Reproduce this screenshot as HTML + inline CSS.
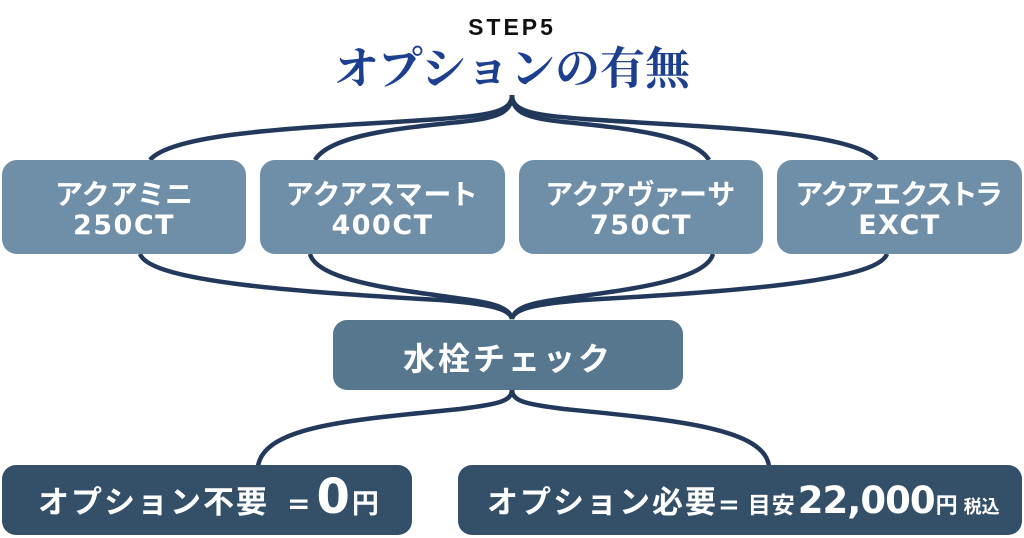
<!DOCTYPE html>
<html><head><meta charset="utf-8">
<style>
html,body{margin:0;padding:0;background:#fff;}
#c{position:relative;width:1024px;height:538px;overflow:hidden;background:#fff;font-family:"Liberation Sans","Noto Sans CJK JP",sans-serif;}
svg{position:absolute;left:0;top:0;}
.step{position:absolute;left:0;width:1024px;top:16px;text-align:center;font:700 23px/23px "Liberation Sans",sans-serif;letter-spacing:3px;color:#111;}
.title{position:absolute;left:0;width:1024px;top:47px;text-align:center;font-family:"Liberation Serif","Noto Serif CJK SC",serif;font-weight:700;font-size:45px;line-height:45px;color:#1d3f8f;}
.tb{position:absolute;top:160px;height:94px;background:#6f8ea8;border-radius:15px;color:#fff;}
.tb .l1{position:absolute;left:0;right:0;top:21px;text-align:center;font-family:"Liberation Sans","Noto Sans CJK JP",sans-serif;font-weight:700;font-size:28px;line-height:28px;font-feature-settings:"palt";white-space:nowrap;}
.tb .l2{position:absolute;left:0;right:0;top:52px;text-align:center;font-family:"DejaVu Sans",sans-serif;font-weight:700;font-size:27px;line-height:27px;letter-spacing:1.5px;white-space:nowrap;}
.mid{position:absolute;left:333px;top:320px;width:350px;height:70px;background:#57778f;border-radius:14px;color:#fff;}
.mid span{position:absolute;left:0;right:0;top:23px;text-align:center;font-weight:700;font-size:32px;line-height:32px;letter-spacing:3px;white-space:nowrap;}
.bb{position:absolute;top:465px;height:70px;background:#344f68;border-radius:14px;color:#fff;}
.row{position:absolute;display:flex;align-items:baseline;white-space:nowrap;color:#fff;}
.jp{font-family:"Liberation Sans","Noto Sans CJK JP",sans-serif;font-weight:700;}
.num{font-family:"DejaVu Sans",sans-serif;font-weight:700;}
</style></head>
<body><div id="c">
<svg width="1024" height="538" viewBox="0 0 1024 538">
<g fill="none" stroke="#22395b" stroke-width="4.5">
<path d="M512,95 C512,112 490,115 440,119 C330,127 175,130 150,160"/>
<path d="M512,95 C512,114 495,118 460,122 C400,128 330,135 315,160"/>
<path d="M512,95 C512,112 534,115 584,119 C697,127 852,130 877,160"/>
<path d="M512,95 C512,114 529,118 564,122 C624,128 694,135 709,160"/>
<path d="M140,254 C150,282 300,292 440,300 C490,304 510,309 512,319"/>
<path d="M310,254 C318,284 420,292 470,300 C498,304 510,309 512,319"/>
<path d="M887,254 C877,282 724,292 584,300 C534,304 514,309 512,319"/>
<path d="M713,254 C705,284 604,292 554,300 C526,304 514,309 512,319"/>
<path d="M512,389 C512,401 500,404 460,409 C350,420 265,426 258,466"/>
<path d="M512,389 C512,401 524,404 564,409 C675,420 764,428 769,466"/>
</g>
</svg>

<div class="step">STEP5</div>
<div class="title">オプションの有無</div>

<div class="tb" style="left:2px;width:244px;"><div class="l1" style="font-feature-settings:normal;">アクアミニ</div><div class="l2">250CT</div></div>
<div class="tb" style="left:260px;width:245px;"><div class="l1" style="letter-spacing:2px;">アクアスマート</div><div class="l2">400CT</div></div>
<div class="tb" style="left:519px;width:244px;"><div class="l1" style="letter-spacing:1.5px;">アクアヴァーサ</div><div class="l2">750CT</div></div>
<div class="tb" style="left:777px;width:245px;"><div class="l1" style="letter-spacing:0.5px;">アクアエクストラ</div><div class="l2">EXCT</div></div>

<div class="mid"><span>水栓チェック</span></div>

<div class="bb" style="left:2px;width:410px;"></div>
<div class="row" style="left:38px;top:473px;">
  <span class="jp" style="font-size:31px;line-height:31px;letter-spacing:2px;">オプション不要</span>
  <span class="num" style="font-size:28px;line-height:28px;margin-left:18px;">=</span>
  <span class="num" style="font-size:48px;line-height:48px;margin-left:6px;">0</span>
  <span class="jp" style="font-size:27px;line-height:27px;margin-left:2px;">円</span>
</div>

<div class="bb" style="left:458px;width:564px;"></div>
<div class="row" style="left:487px;top:482px;">
  <span class="jp" style="font-size:31px;line-height:31px;letter-spacing:2px;">オプション必要</span>
  <span class="num" style="font-size:26px;line-height:26px;margin-left:0px;">=</span>
  <span class="jp" style="font-size:23px;line-height:23px;margin-left:8px;letter-spacing:1px;">目安</span>
  <span class="num" style="font-size:37px;line-height:37px;letter-spacing:-1px;margin-left:2px;">22,000</span>
  <span class="jp" style="font-size:22px;line-height:22px;margin-left:1px;">円</span>
  <span class="jp" style="font-size:18px;line-height:18px;margin-left:6px;">税込</span>
</div>

</div></body></html>
